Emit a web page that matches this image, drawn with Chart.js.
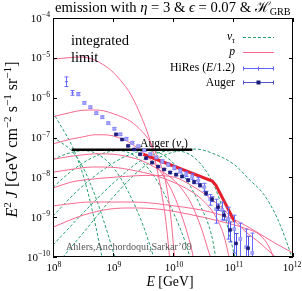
<!DOCTYPE html>
<html><head><meta charset="utf-8">
<script src="https://cdn.jsdelivr.net/npm/chart.js@4.4.1/dist/chart.umd.min.js"></script>
<style>html,body{margin:0;padding:0;background:#fff;overflow:hidden}canvas{display:block}</style>
</head><body>
<canvas id="c" width="302" height="291" style="width:302px;height:291px"></canvas>
<script>
// ---------- axis ticks ----------
const xTicks = [1e8, 1e9, 1e10, 1e11, 1e12];
const xTickExp = ['8', '9', '10', '11', '12'];
const yTicks = [1e-10, 1e-9, 1e-8, 1e-7, 1e-6, 1e-5, 1e-4];
const yTickExp = ['\u221210', '\u22129', '\u22128', '\u22127', '\u22126', '\u22125', '\u22124'];

// ---------- proton curves (E [GeV], E^2 J) ----------
const pE1 = [1e8,2e8,3e8,5e8,7e8,1e9,1.5e9,2e9,3e9,4e9,5e9,6.3e9,7.6e9,8.9e9];
const pF1 = [9.33e-6,1.02e-5,1.05e-5,8.71e-6,6.61e-6,4.37e-6,2.19e-6,1.17e-6,3.16e-7,1e-7,2.82e-8,5.01e-9,7.94e-10,7.94e-11];
const pE2 = [1e8,2e8,3e8,5e8,7e8,1e9,1.5e9,2e9,3e9,4e9,5e9,6.3e9,7.9e9,9.5e9,1.07e10];
const pF2 = [3.31e-7,4.27e-7,4.79e-7,4.9e-7,4.68e-7,3.98e-7,3.16e-7,2.51e-7,1.45e-7,8.51e-8,4.47e-8,2e-8,5.37e-9,6.31e-10,7.94e-11];
const pE3 = [1e8,2e8,3e8,5e8,7e8,1e9,1.5e9,2e9,3e9,5e9,7e9,1e10,1.5e10,2e10,2.24e10];
const pF3 = [6.92e-8,9.12e-8,1.02e-7,1.17e-7,1.17e-7,1.1e-7,8.91e-8,7.08e-8,4.47e-8,2.09e-8,1.05e-8,3.98e-9,7.94e-10,1.78e-10,7.94e-11];
const pE4 = [1e8,2e8,3e8,5e8,1e9,2e9,3e9,5e9,1e10,1.5e10,2e10,3e10,4e10,4.5e10];
const pF4 = [2.82e-8,3.39e-8,3.63e-8,3.89e-8,3.8e-8,3.16e-8,2.63e-8,1.78e-8,8.91e-9,4.47e-9,2.24e-9,5.01e-10,1.26e-10,7.94e-11];
const pE5 = [1e8,2e8,4.7e8,1e9,2.1e9,5e9,1e10,2e10,3e10,5e10,7e10,8.9e10];
const pF5 = [1.35e-8,1.58e-8,1.82e-8,1.78e-8,1.51e-8,1.12e-8,7.59e-9,4.47e-9,2.82e-9,1.12e-9,3.55e-10,7.94e-11];
const pE6 = [1e8,2e8,3.16e8,1.17e9,4.17e9,1.07e10,2e10,3.16e10,6e10,1e11,1.58e11,2.82e11,6e11];
const pF6 = [5.37e-9,7.59e-9,8.51e-9,1.02e-8,1.12e-8,1e-8,6.31e-9,4.07e-9,1.91e-9,8.91e-10,4.47e-10,2.24e-10,7.94e-11];
const pE7 = [1e8,2e8,4.17e8,2.14e9,1.07e10,4.17e10,1.07e11,2.34e11,5e11,1e12];
const pF7 = [1.91e-9,2.19e-9,2.4e-9,2.4e-9,1.91e-9,1.35e-9,8.51e-10,4.47e-10,2.24e-10,1.26e-10];
const pE8 = [1e8,3.16e8,8.91e8,2.14e9,6e9,1.91e10,6e10,1.58e11,2.82e11,4e11,5e11];
const pF8 = [5.62e-10,1.12e-9,1.6e-9,1.7e-9,1.58e-9,1.17e-9,7.94e-10,5.25e-10,3.55e-10,1.78e-10,7.94e-11];

// ---------- tau-neutrino curves ----------
const gE1 = [8.9e7,1e8,1.48e8,2.14e8,3.16e8,4.68e8,6.76e8];
const gF1 = [5.62e-7,4.17e-7,1.55e-7,5.62e-8,1.17e-8,1.17e-9,7.94e-11];
const gE2 = [1e8,1.41e8,2e8,3.16e8,5e8,7.94e8,1.12e9];
const gF2 = [1e-7,7.24e-8,4.79e-8,1.78e-8,3.55e-9,4.47e-10,7.94e-11];
const gE3 = [1e8,1.78e8,3.16e8,5.62e8,1e9,1.78e9,3.16e9,5.01e9];
const gF3 = [2.82e-8,3.98e-8,4.68e-8,3.8e-8,1.78e-8,4.47e-9,6.31e-10,7.94e-11];
const gE4 = [1e8,2e8,3.98e8,7.94e8,1.26e9,2.24e9,4.47e9,8.91e9,1.58e10,2e10];
const gF4 = [5.62e-9,1.41e-8,2.82e-8,4.27e-8,4.68e-8,3.55e-8,1.26e-8,2e-9,2.51e-10,7.94e-11];
const gE5 = [1e8,2.51e8,6.31e8,1.58e9,3.55e9,7.08e9,1.41e10,2.82e10,4.47e10,5.25e10];
const gF5 = [1.07e-9,4.47e-9,1.41e-8,3.31e-8,4.68e-8,3.55e-8,1.26e-8,2e-9,3.16e-10,7.94e-11];
const gE6 = [1e8,3.16e8,1e9,3.16e9,1e10,2.24e10,4.47e10,7.08e10,1e11,1.12e11];
const gF6 = [2e-10,1.26e-9,7.08e-9,2.82e-8,4.68e-8,3.16e-8,7.94e-9,1.26e-9,1.58e-10,7.94e-11];
const gE7 = [1e8,3.16e8,1e9,3.16e9,7.94e9,2.34e10,5e10,1.07e11,1.91e11,3.16e11,5.37e11,7.94e11,1e12];
const gF7 = [5.01e-11,3.98e-10,3.16e-9,1.78e-8,3.8e-8,5.13e-8,3.8e-8,2.04e-8,8.51e-9,3.98e-9,1e-9,2.24e-10,7.94e-11];

// ---------- integrated Auger limit and total ----------
const limitE = [2.05e8, 2.1e10];
const limitF = [4.9e-8, 4.9e-8];
const totalE = [3.2e9, 4.5e10, 5.2e10, 1.07e11];
const totalF = [3.8e-8, 8.1e-9, 6.3e-9, 7.6e-10];

// ---------- data: HiRes (E/1.2) ----------
const hiresE = [1.66e8,2.09e8,2.63e8,3.31e8,4.17e8,5.25e8,6.61e8,8.32e8,1.05e9,1.32e9,1.66e9,2.09e9,2.63e9,3.31e9,4.17e9,5.25e9,6.61e9,8.32e9,1.05e10,1.32e10,1.66e10,2.09e10,2.63e10,3.31e10,4.17e10,5.25e10,6.61e10,8.32e10,1.05e11,1.32e11,1.66e11,2.09e11];
const hiresF = [2.51e-6,1.32e-6,1.23e-6,7.41e-7,5.75e-7,4.07e-7,3.24e-7,2.29e-7,1.66e-7,1.2e-7,9.33e-8,7.41e-8,6.03e-8,4.79e-8,3.8e-8,3.16e-8,2.51e-8,2.09e-8,1.74e-8,1.45e-8,1.2e-8,1.05e-8,8.32e-9,5.62e-9,2.82e-9,1.58e-9,1.51e-9,8.91e-10,5.01e-10,2.82e-10,1.78e-10,1.26e-10];
const hiresErrUpDex = [0.12,0.06,0.04,0.03,0.03,0.03,0.03,0.03,0.03,0.03,0.03,0.03,0.03,0.03,0.03,0.03,0.04,0.04,0.05,0.05,0.06,0.07,0.08,0.1,0.12,0.25,0.2,0.3,0.35,0.4,0.45,0.5];
const hiresErrDnDex = [0.12,0.06,0.04,0.03,0.03,0.03,0.03,0.03,0.03,0.03,0.03,0.03,0.03,0.03,0.03,0.03,0.04,0.04,0.05,0.05,0.06,0.07,0.08,0.1,0.15,0.35,0.25,0.5,0.6,1.0,1.0,1.0];

// ---------- data: Auger ----------
const augerE = [1.12e9,1.41e9,1.78e9,2.24e9,2.82e9,3.55e9,4.47e9,5.62e9,7.08e9,8.91e9,1.12e10,1.41e10,1.78e10,2.24e10,2.82e10,3.55e10,4.47e10,5.62e10,7.08e10,8.91e10,1.12e11,1.78e11];
const augerF = [1.2e-7,8.91e-8,6.17e-8,5.01e-8,3.8e-8,3.02e-8,2.34e-8,1.86e-8,1.58e-8,1.32e-8,1.17e-8,1.05e-8,8.51e-9,7.59e-9,6.31e-9,3.98e-9,2.82e-9,1.78e-9,1.12e-9,4.79e-10,2.19e-10,1.66e-10];
const augerErrUpDex = [0.02,0.02,0.02,0.02,0.02,0.02,0.02,0.02,0.02,0.03,0.03,0.03,0.03,0.04,0.04,0.05,0.06,0.08,0.1,0.2,0.25,0.3];
const augerErrDnDex = [0.02,0.02,0.02,0.02,0.02,0.02,0.02,0.02,0.02,0.03,0.03,0.03,0.03,0.04,0.04,0.05,0.06,0.08,0.12,0.3,0.4,0.6];

// ---------- styling ----------
const PINK = '#f7688f';
const GREEN = '#25a06c';
const RED = '#e41f2b';
const SERIF = '"Liberation Serif","DejaVu Serif","Times New Roman",serif';

function curve(E, F, color, width, dash, order, smooth) {
  return {
    data: E.map((e, i) => ({x: e, y: F[i]})),
    showLine: true, borderColor: color, backgroundColor: color,
    borderWidth: width, borderDash: dash || [], pointRadius: 0, pointHoverRadius: 0,
    cubicInterpolationMode: smooth ? 'monotone' : 'default', tension: 0,
    fill: false, order: order
  };
}
function points(E, F, up, dn, fillC, edgeC, errC, order, radii) {
  return {
    data: E.map((e, i) => ({x: e, y: F[i]})),
    showLine: false, pointStyle: 'rect', pointRadius: radii, pointHoverRadius: radii,
    backgroundColor: fillC, borderColor: edgeC, borderWidth: 0.6,
    order: order, errUp: up, errDn: dn, errColor: errC
  };
}

const datasets = [];
[[gE1,gF1],[gE2,gF2],[gE3,gF3],[gE4,gF4],[gE5,gF5],[gE6,gF6],[gE7,gF7]].forEach(([e,f]) =>
  datasets.push(curve(e, f, GREEN, 1, [3, 2], 6, true)));
[[pE1,pF1],[pE2,pF2],[pE3,pF3],[pE4,pF4],[pE5,pF5],[pE6,pF6],[pE7,pF7],[pE8,pF8]].forEach(([e,f]) =>
  datasets.push(curve(e, f, PINK, 1, [], 5, true)));
datasets.push(curve(limitE, limitF, '#000', 2.5, [], 3, false));
datasets.push(curve(totalE, totalF, RED, 3, [], 2, false));
datasets.push(points(hiresE, hiresF, hiresErrUpDex, hiresErrDnDex, '#a9a9ff', '#8585ff', '#6868ff', 1,
  hiresE.map((e, i) => i < 2 ? 0 : 2.1)));
datasets.push(points(augerE, augerF, augerErrUpDex, augerErrDnDex, '#1d1d78', '#1d1d78', '#4e4ee0', 0, 2.1));

// ---------- rich text helpers ----------
function parts(ctx, segs, size) {
  return segs.map(s => {
    const t = s[0], f = s[1] || '';
    const small = f.includes('^') || f.includes('_');
    const sz = size * (small ? 0.7 : 1);
    const font = (f.includes('i') ? 'italic ' : '') + sz.toFixed(2) + 'px ' + SERIF;
    ctx.font = font;
    const w = ctx.measureText(t).width;
    const dy = f.includes('^') ? -0.4 * size : (f.includes('_') ? 0.22 * size : 0);
    return {t, font, w, dy};
  });
}
function richW(ctx, segs, size) { return parts(ctx, segs, size).reduce((a, p) => a + p.w, 0); }
function fit(ctx, segs, width) { return 10 * width / richW(ctx, segs, 10); }
function rich(ctx, segs, x, y, size, align, color) {
  const ps = parts(ctx, segs, size);
  const tot = ps.reduce((a, p) => a + p.w, 0);
  let cx = align === 'center' ? x - tot / 2 : (align === 'right' ? x - tot : x);
  ctx.fillStyle = color || '#000';
  ctx.textAlign = 'left'; ctx.textBaseline = 'alphabetic';
  ps.forEach(p => { ctx.font = p.font; ctx.fillText(p.t, cx, y + p.dy); cx += p.w; });
}

const overlay = {
  id: 'overlay',
  beforeDatasetDraw(chart, args) {
    const ds = chart.data.datasets[args.index];
    if (!ds.errUp) return;
    const {ctx, chartArea: a} = chart;
    const xs = chart.scales.x, ys = chart.scales.y;
    ctx.save();
    ctx.beginPath(); ctx.rect(a.left, a.top, a.right - a.left, a.bottom - a.top); ctx.clip();
    ctx.strokeStyle = ds.errColor; ctx.lineWidth = 1;
    ds.data.forEach((p, i) => {
      const px = Math.round(xs.getPixelForValue(p.x)) + 0.5;
      const y1 = ys.getPixelForValue(p.y * Math.pow(10, ds.errUp[i]));
      const y2 = ys.getPixelForValue(p.y / Math.pow(10, ds.errDn[i]));
      const py = ys.getPixelForValue(p.y);
      ctx.beginPath();
      ctx.moveTo(px, y1); ctx.lineTo(px, y2);
      ctx.moveTo(px - 2, y1); ctx.lineTo(px + 2, y1);
      ctx.moveTo(px - 2, y2); ctx.lineTo(px + 2, y2);
      ctx.moveTo(px - 1.5, py); ctx.lineTo(px + 1.5, py);
      ctx.stroke();
    });
    ctx.restore();
  },
  afterDraw(chart) {
    const {ctx, chartArea: a} = chart;
    const xs = chart.scales.x, ys = chart.scales.y;
    ctx.save();
    // frame
    ctx.strokeStyle = '#000'; ctx.lineWidth = 1;
    ctx.strokeRect(a.left + 0.5, a.top + 0.5, a.right - a.left - 1, a.bottom - a.top - 1);
    // ticks
    ctx.beginPath();
    xTicks.forEach(v => {
      const px = Math.round(xs.getPixelForValue(v)) + 0.5;
      ctx.moveTo(px, a.bottom); ctx.lineTo(px, a.bottom - 4);
      ctx.moveTo(px, a.top); ctx.lineTo(px, a.top + 4);
    });
    yTicks.forEach(v => {
      const py = Math.round(ys.getPixelForValue(v)) + 0.5;
      ctx.moveTo(a.left, py); ctx.lineTo(a.left + 4, py);
      ctx.moveTo(a.right, py); ctx.lineTo(a.right - 4, py);
    });
    ctx.stroke();
    // tick labels
    xTicks.forEach((v, i) => {
      const px = xs.getPixelForValue(v);
      rich(ctx, [['10'], [xTickExp[i], '^']], Math.min(px + 1, 292), 271, 11, 'center');
    });
    yTicks.forEach((v, i) => {
      const py = ys.getPixelForValue(v);
      rich(ctx, [['10'], [yTickExp[i], '^']], 50, py + 3.5, 11, 'right');
    });
    // axis titles
    const xl = [['E', 'i'], [' [GeV]']];
    rich(ctx, xl, 170, 286, fit(ctx, xl, 47), 'center');
    const yl = [['E', 'i'], ['2', '^'], [' '], ['J', 'i'], [' [GeV cm'], ['\u22122', '^'], [' s'], ['\u22121', '^'], [' sr'], ['\u22121', '^'], [']']];
    ctx.save(); ctx.translate(17, 139.5); ctx.rotate(-Math.PI / 2);
    rich(ctx, yl, 0, 0, fit(ctx, yl, 156), 'center');
    ctx.restore();
    // title
    const tl = [['emission with '], ['\u03b7', 'i'], [' = 3 & '], ['\u03f5', 'i'], [' = 0.07 & '], ['\u210b'], ['GRB', '_']];
    rich(ctx, tl, 55, 12, fit(ctx, tl, 237), 'left');
    // integrated limit
    const il = [['integrated']];
    const isz = fit(ctx, il, 58);
    rich(ctx, il, 71, 45, isz, 'left');
    rich(ctx, [['limit']], 71, 62, isz, 'left');
    // Auger (nu_tau)
    const al = [['Auger ('], ['\u03bd', 'i'], ['\u03c4', 'i_'], [')']];
    rich(ctx, al, 140, 147, fit(ctx, al, 48), 'left');
    // credit
    const cr = [['Ahlers,Anchordoqui,Sarkar\u201909']];
    rich(ctx, cr, 66, 249.5, fit(ctx, cr, 126), 'left', '#555');
    // legend
    const lsz = fit(ctx, [['HiRes ('], ['E', 'i'], ['/1.2)']], 65);
    rich(ctx, [['\u03bd', 'i'], ['\u03c4', 'i_']], 235, 40, lsz, 'right');
    rich(ctx, [['p', 'i']], 235, 55, lsz, 'right');
    rich(ctx, [['HiRes ('], ['E', 'i'], ['/1.2)']], 235, 71, lsz, 'right');
    rich(ctx, [['Auger']], 235, 85.5, lsz, 'right');
    const x0 = 243, x1 = 274, xm = 258.5;
    ctx.lineWidth = 1;
    ctx.strokeStyle = GREEN; ctx.setLineDash([3, 2]);
    ctx.beginPath(); ctx.moveTo(x0, 37.5); ctx.lineTo(x1, 37.5); ctx.stroke();
    ctx.setLineDash([]);
    ctx.strokeStyle = PINK;
    ctx.beginPath(); ctx.moveTo(x0, 52.5); ctx.lineTo(x1, 52.5); ctx.stroke();
    [[68.5, '#6262ff'], [82.5, '#5555c8']].forEach(([yy, c]) => {
      ctx.strokeStyle = c;
      ctx.beginPath();
      ctx.moveTo(x0, yy); ctx.lineTo(x1, yy);
      ctx.moveTo(x0 + 0.5, yy - 2); ctx.lineTo(x0 + 0.5, yy + 2);
      ctx.moveTo(x1 - 0.5, yy - 2); ctx.lineTo(x1 - 0.5, yy + 2);
      ctx.stroke();
    });
    ctx.strokeStyle = '#6262ff';
    ctx.beginPath(); ctx.moveTo(xm, 66.5); ctx.lineTo(xm, 70.5); ctx.stroke();
    ctx.fillStyle = '#1d1d78'; ctx.fillRect(xm - 2, 80.5, 4, 4);
    ctx.restore();
  }
};

new Chart(document.getElementById('c').getContext('2d'), {
  type: 'scatter',
  data: {datasets},
  options: {
    responsive: false, animation: false, devicePixelRatio: 1,
    layout: {padding: {top: 18, right: 9, left: 0, bottom: 0}},
    plugins: {legend: {display: false}, tooltip: {enabled: false}, title: {display: false}},
    events: [],
    scales: {
      x: {type: 'logarithmic', min: 1e8, max: 1e12, grid: {display: false}, border: {display: false},
          ticks: {display: false}, afterFit: s => { s.height = 34; }},
      y: {type: 'logarithmic', min: 1e-10, max: 1e-4, grid: {display: false}, border: {display: false},
          ticks: {display: false}, afterFit: s => { s.width = 53; }}
    }
  },
  plugins: [overlay]
});
</script>
</body></html>
